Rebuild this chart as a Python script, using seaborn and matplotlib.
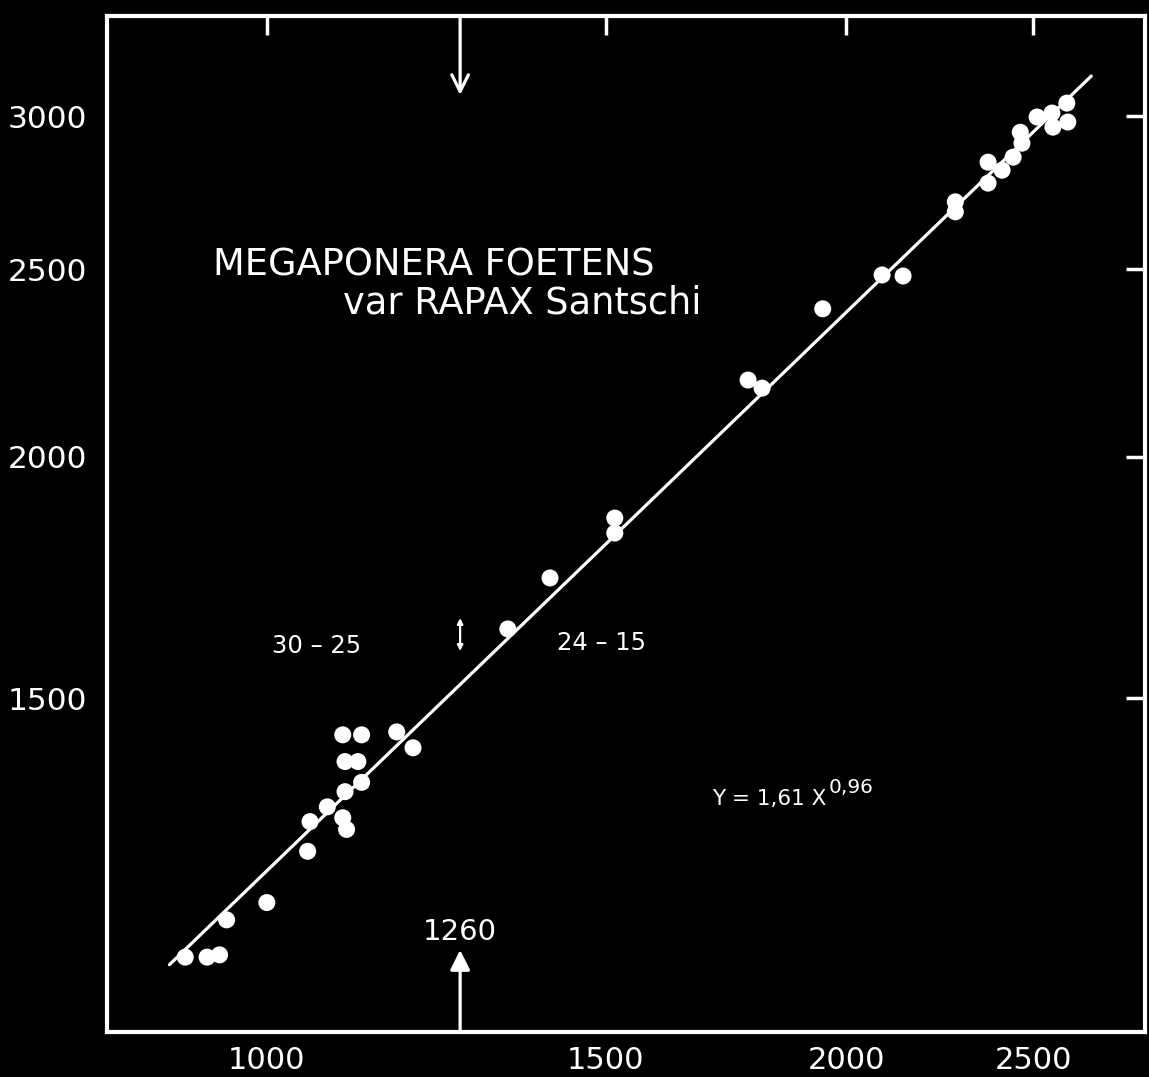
import numpy as np
import pandas as pd
import matplotlib
matplotlib.use("Agg")
import matplotlib.pyplot as plt
from matplotlib.ticker import FixedLocator, NullLocator, FixedFormatter
import matplotlib.transforms as mtransforms
import seaborn as sns

# ---------------- data ----------------
x_values = [907, 931, 945, 953, 1000, 1050, 1053, 1075, 1098, 1095,
            1120, 1098, 1115, 1120, 1095, 1100, 1168, 1191, 1334, 1403,
            1516, 1516, 1778, 1808, 1944, 2087, 2140, 2278, 2278, 2369,
            2409, 2369, 2441, 2462, 2467, 2512, 2557, 2560, 2603, 2606]
y_values = [1102, 1102, 1105, 1152, 1176, 1250, 1295, 1318, 1342, 1436,
            1436, 1391, 1391, 1357, 1301, 1283, 1441, 1414, 1629, 1731,
            1859, 1826, 2191, 2170, 2385, 2483, 2480, 2709, 2677, 2840,
            2813, 2770, 2857, 2943, 2905, 2997, 3011, 2961, 3047, 2979]

fit_coef = 1.61
fit_exp = 0.96
fit_x_range = [890, 2680]

break_x = 1260
break_label = "1260"

x_ticks = [1000, 1500, 2000, 2500]
x_tick_labels = ["1000", "1500", "2000", "2500"]
y_ticks = [1500, 2000, 2500, 3000]
y_tick_labels = ["1500", "2000", "2500", "3000"]

title_line1 = "MEGAPONERA FOETENS"
title_line2 = "var RAPAX Santschi"
group_left = "30 \u2013 25"
group_right = "24 \u2013 15"
equation = "Y = 1,61 X"
equation_exp = "0,96"

# ---------------- style ----------------
sns.set_theme(style="white")
plt.rcParams['font.family'] = ['DejaVu Sans']
plt.rcParams['axes.facecolor'] = 'black'
plt.rcParams['figure.facecolor'] = 'black'

W, H = 1149, 1077
fig = plt.figure(figsize=(W / 100, H / 100), dpi=100)
ax_l, ax_r, ax_t, ax_b = 107, 1145, 16, 1032
ax = fig.add_axes([ax_l / W, 1 - ax_b / H, (ax_r - ax_l) / W, (ax_b - ax_t) / H])
ax.set_facecolor('black')

pts = pd.DataFrame({"x": x_values, "y": y_values})
fit_df = pd.DataFrame({"x": fit_x_range,
                       "y": [fit_coef * v ** fit_exp for v in fit_x_range]})

ax.set_xscale('log')
ax.set_yscale('log')

sns.lineplot(data=fit_df, x="x", y="y", ax=ax, color='white', lw=2.3,
             legend=False, zorder=2)
sns.scatterplot(data=pts, x="x", y="y", ax=ax, color='white', s=150,
                edgecolor='none', linewidth=0, legend=False, zorder=3)

xlim = (826, 2858)
ylim = (1008, 3380)
ax.set_xlim(*xlim)
ax.set_ylim(*ylim)

ax.xaxis.set_major_locator(FixedLocator(x_ticks))
ax.xaxis.set_major_formatter(FixedFormatter(x_tick_labels))
ax.yaxis.set_major_locator(FixedLocator(y_ticks))
ax.yaxis.set_major_formatter(FixedFormatter(y_tick_labels))
ax.xaxis.set_minor_locator(NullLocator())
ax.yaxis.set_minor_locator(NullLocator())

ax.tick_params(which='major', direction='in', length=14, width=2.5,
               top=True, right=True, color='white', labelcolor='white')
ax.tick_params(axis='x', labelsize=22, pad=10)
ax.tick_params(axis='y', labelsize=22.5, pad=14)
ax.set_xlabel("")
ax.set_ylabel("")

for sp in ax.spines.values():
    sp.set_visible(True)
    sp.set_color('white')
    sp.set_linewidth(3)

# ---------------- annotations ----------------
def frac(px, py):
    return (px - ax_l) / (ax_r - ax_l), (ax_b - py) / (ax_b - ax_t)

tkw = dict(color='white', transform=ax.transAxes, ha='left', va='baseline')
ax.text(*frac(213, 275), title_line1, fontsize=26.5, **tkw)
ax.text(*frac(343, 313), title_line2, fontsize=26.5, **tkw)
ax.text(*frac(272, 653), group_left, fontsize=17.5, **tkw)
ax.text(*frac(557, 650), group_right, fontsize=17.5, **tkw)
ax.text(*frac(712, 805), equation, fontsize=15.5, **tkw)
ax.text(*frac(829, 793), equation_exp, fontsize=14.5, **tkw)

blend = mtransforms.blended_transform_factory(ax.transData, ax.transAxes)
ax.text(break_x, frac(0, 940)[1], break_label, color='white', fontsize=21,
        ha='center', va='baseline', transform=blend)

# top arrow (down)
ax.annotate("", xy=(break_x, frac(0, 95)[1]), xycoords=blend,
            xytext=(break_x, 1.0), textcoords=blend,
            arrowprops=dict(arrowstyle='->', color='white', lw=2.3,
                            mutation_scale=30, shrinkA=0, shrinkB=0))
# bottom arrow (up)
ax.annotate("", xy=(break_x, frac(0, 950)[1]), xycoords=blend,
            xytext=(break_x, 0.0), textcoords=blend,
            arrowprops=dict(arrowstyle='-|>', color='white', lw=2.3,
                            mutation_scale=30, shrinkA=0, shrinkB=0))
# small double arrow
ax.annotate("", xy=(break_x, frac(0, 618)[1]), xycoords=blend,
            xytext=(break_x, frac(0, 651)[1]), textcoords=blend,
            arrowprops=dict(arrowstyle='<|-|>', color='white', lw=1.6,
                            mutation_scale=8, shrinkA=0, shrinkB=0))

fig.savefig("out.png", dpi=100, facecolor='black')
